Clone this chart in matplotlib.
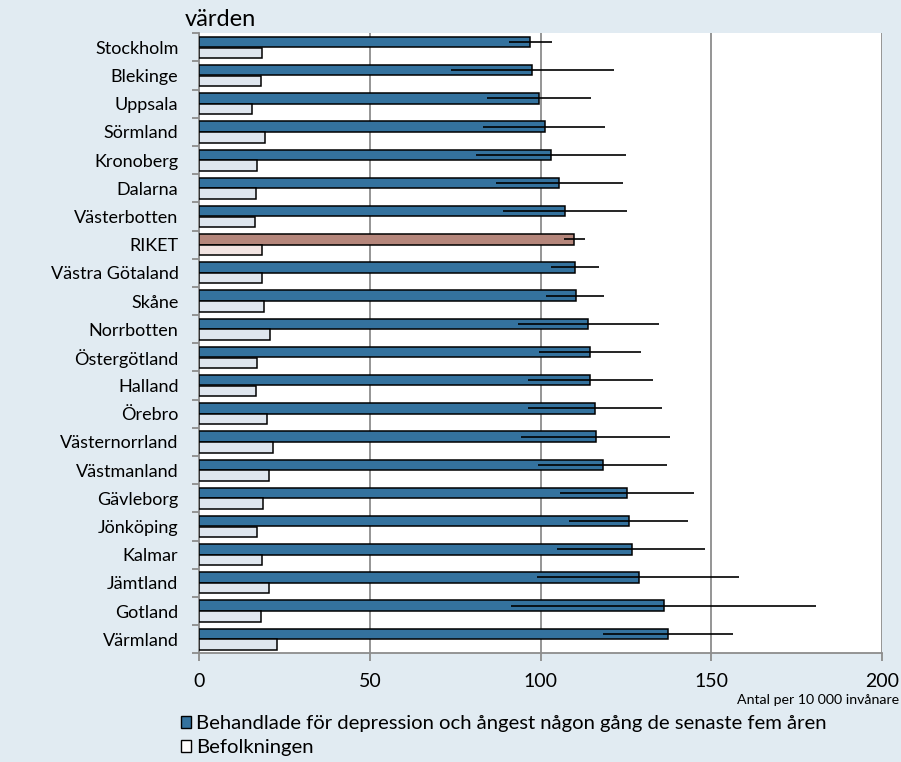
import matplotlib
matplotlib.use("Agg")
import matplotlib.pyplot as plt
from matplotlib.patches import Patch
import numpy as np

## データ
regions = ["Stockholm", "Blekinge", "Uppsala", "Sörmland", "Kronoberg", "Dalarna",
           "Västerbotten", "RIKET", "Västra Götaland", "Skåne", "Norrbotten",
           "Östergötland", "Halland", "Örebro", "Västernorrland", "Västmanland",
           "Gävleborg", "Jönköping", "Kalmar", "Jämtland", "Gotland", "Värmland"]
treated = [97.0, 97.5, 99.6, 101.2, 103.1, 105.5, 107.3, 109.9, 110.2, 110.3, 114.0,
           114.6, 114.6, 116.0, 116.3, 118.3, 125.4, 125.9, 126.8, 128.8, 136.2, 137.5]
population = [18.3, 18.0, 15.4, 19.2, 17.0, 16.6, 16.4, 18.5, 18.4, 19.1, 20.8,
              17.0, 16.5, 19.9, 21.6, 20.5, 18.6, 17.0, 18.4, 20.3, 18.1, 22.7]
ci_low = [90.7, 73.7, 84.3, 83.2, 81.1, 87.0, 88.9, 107.0, 103.1, 101.7, 93.3,
          99.7, 96.2, 96.4, 94.4, 99.3, 105.7, 108.4, 104.9, 98.9, 91.5, 118.3]
ci_high = [103.4, 121.4, 114.8, 118.9, 125.0, 124.1, 125.3, 112.9, 117.1, 118.7, 134.6,
           129.5, 133.0, 135.6, 138.1, 137.1, 145.1, 143.3, 148.3, 158.1, 180.7, 156.3]
legend_labels = ["Behandlade för depression och ångest någon gång de senaste fem åren",
                 "Befolkningen"]

# 色
BG = "#e1ebf2"
BLUE = "#34729e"
LIGHT = "#dfe6ee"
RIKET_DARK = "#b5867b"
RIKET_LIGHT = "#f2e4e2"
GRID = "#8c8c8c"

plt.rcParams["font.family"] = ["Lato", "DejaVu Sans"]

fig = plt.figure(figsize=(9.01, 7.62), dpi=100, facecolor=BG)
ax = fig.add_axes([199.3 / 901, 1 - 653.3 / 762, (881.7 - 199.3) / 901, (653.3 - 33.3) / 762])
ax.set_facecolor("white")

y = np.arange(len(regions))
treated = np.array(treated)
err = np.array([treated - np.array(ci_low), np.array(ci_high) - treated])

c1 = [RIKET_DARK if r == "RIKET" else BLUE for r in regions]
c2 = [RIKET_LIGHT if r == "RIKET" else LIGHT for r in regions]

h = 0.37
ax.barh(y - 0.19, treated, height=h, color=c1, edgecolor="black", linewidth=1.1, zorder=3)
ax.barh(y + 0.19, population, height=h, color=c2, edgecolor="black", linewidth=1.1, zorder=3)
ax.errorbar(treated, y - 0.19, xerr=err, fmt="none", ecolor="black", elinewidth=1.2,
            capsize=0, zorder=4)

ax.set_xlim(0, 200)
ax.set_ylim(len(regions) - 0.5, -0.5)
ax.set_xticks([0, 50, 100, 150, 200])
ax.xaxis.grid(True, color=GRID, linewidth=1.3, zorder=1)

# カテゴリ軸: 境界に目盛り、中央にラベル
ax.set_yticks(np.arange(-0.5, len(regions), 1.0))
ax.set_yticklabels([])
ax.set_yticks(y, minor=True)
ax.set_yticklabels(regions, minor=True, fontsize=13)
ax.tick_params(axis="y", which="major", length=5, width=1.3, color=GRID, direction="out")
ax.tick_params(axis="y", which="minor", length=0, pad=15)
ax.tick_params(axis="x", length=6, width=1.3, color=GRID, labelsize=14, pad=8)

for s in ["top", "right"]:
    ax.spines[s].set_visible(False)
for s in ["left", "bottom"]:
    ax.spines[s].set_color(GRID)
    ax.spines[s].set_linewidth(1.3)

fig.text(220 / 901, 1 - 20 / 762, "värden", fontsize=17, ha="center", va="center")
fig.text(899 / 901, 1 - 700 / 762, "Antal per 10 000 invånare", fontsize=10.2,
         ha="right", va="center")

handles = [Patch(facecolor=BLUE, edgecolor="black", linewidth=1.0),
           Patch(facecolor="white", edgecolor="black", linewidth=1.0)]
fig.legend(handles, legend_labels, loc="upper left", bbox_to_anchor=(181 / 901, 1 - 715 / 762),
           frameon=False, fontsize=14.6, handlelength=0.5, handleheight=0.5,
           handletextpad=0.25, labelspacing=0.35, borderpad=0, borderaxespad=0)

plt.savefig("out.png", dpi=100, facecolor=BG)
